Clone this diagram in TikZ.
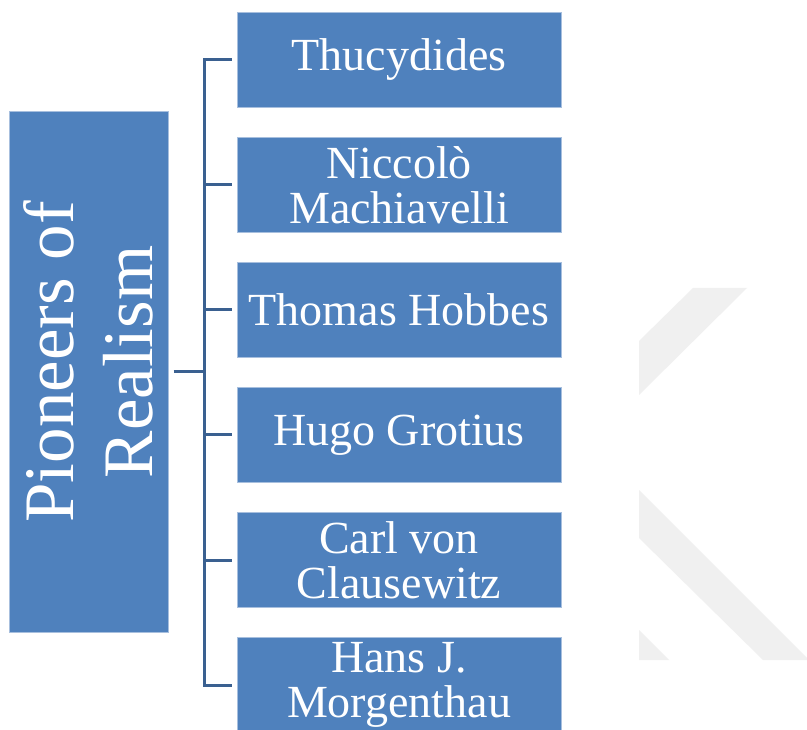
\documentclass[tikz,border=0pt]{standalone}
\usepackage{fontspec}
\setmainfont{Liberation Serif}
\definecolor{boxblue}{RGB}{79,129,189}
\definecolor{boxedge}{RGB}{167,191,222}
\definecolor{connblue}{RGB}{58,96,144}
\definecolor{wmgray}{RGB}{240,240,240}
\tikzset{
  leaf/.style={rectangle, fill=boxblue, draw=boxedge, line width=1pt,
    minimum width=324pt, minimum height=95pt, inner sep=0pt,
    text=white, align=center, font={\fontsize{46}{45}\selectfont}},
  rootbox/.style={rectangle, fill=boxblue, draw=boxedge, line width=1pt,
    minimum width=159pt, minimum height=520pt, inner sep=0pt},
  roottext/.style={rotate=90, text=white, align=center, inner sep=0pt,
    font={\fontsize{71}{79}\selectfont}},
  conn/.style={draw=connblue, line width=3pt},
  wm/.style={fill=wmgray}
}
\begin{document}
\begin{tikzpicture}[x=1pt,y=-1pt]
\clip (0,0) rectangle (807,730);
\fill[white] (0,0) rectangle (807,730);
% watermark
\fill[wm] (693,288) -- (747,288) -- (639,395) -- (639,341) -- cycle;
\fill[wm] (639,490) -- (809,660) -- (763,660) -- (639,538) -- cycle;
\fill[wm] (639,630) -- (669,660) -- (639,660) -- cycle;
% root
\node[rootbox] (big) at (88.5,372) {};
\node[roottext] (bigtext) at (88,362) {Pioneers of\\Realism};
% leaves
\node[leaf] (b1) at (399,60) {Thucydides};
\node[leaf] (b2) at (399,185) {Niccolò\\Machiavelli};
\node[leaf] (b3) at (399,310) {Thomas Hobbes};
\node[leaf] (b4) at (399,435) {Hugo Grotius};
\node[leaf] (b5) at (399,560) {Carl von\\Clausewitz};
\node[leaf] (b6) at (399,685) {Hans J.\\Morgenthau};
% connectors
\coordinate (trunk) at (204,372);
\draw[conn] ([xshift=-5pt]b1.west) -- (b1.west -| trunk) -- (b6.west -| trunk) -- ([xshift=-5pt]b6.west);
\foreach \i in {2,3,4,5}{
  \draw[conn] (b\i.west -| trunk) -- ([xshift=-5pt]b\i.west);
}
\draw[conn] ([xshift=5pt]big.east) -- (trunk);
\end{tikzpicture}
\end{document}
